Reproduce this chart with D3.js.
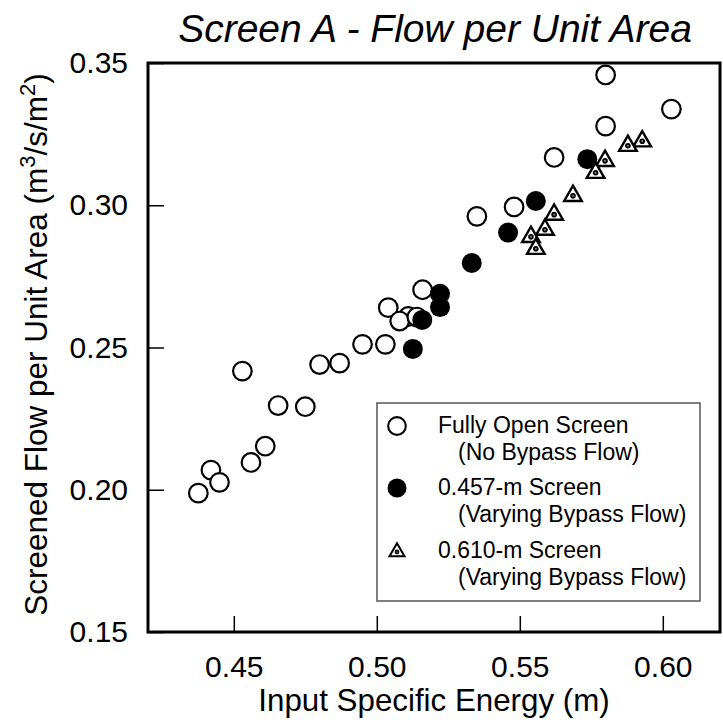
<!DOCTYPE html>
<html>
<head>
<meta charset="utf-8">
<script src="https://cdn.jsdelivr.net/npm/d3@7"></script>
<style>
  body { margin: 0; background: #fff; }
  text { font-family: "Liberation Sans", Arial, sans-serif; fill: #000; }
</style>
</head>
<body>
<div id="chart"></div>
<script>
// fully open screen (no bypass flow)
var openX = [0.580, 0.603, 0.580, 0.562, 0.548, 0.535, 0.516, 0.504, 0.511, 0.508, 0.514, 0.495,
             0.503, 0.480, 0.487, 0.453, 0.4655, 0.475, 0.461, 0.456, 0.442, 0.445, 0.4376];
var openY = [0.3458, 0.3338, 0.3278, 0.3168, 0.2994, 0.2961, 0.2703, 0.2640, 0.2609, 0.2593, 0.2607, 0.2511,
             0.2511, 0.2440, 0.2445, 0.2417, 0.2296, 0.2292, 0.2153, 0.2096, 0.2069, 0.2026, 0.1988];
// 0.457-m screen
var s457X = [0.5736, 0.5556, 0.5459, 0.5332, 0.5221, 0.5221, 0.5159, 0.5126];
var s457Y = [0.3162, 0.3015, 0.2904, 0.2797, 0.2689, 0.2642, 0.2597, 0.2495];
// 0.610-m screen
var s610X = [0.5928, 0.5878, 0.5798, 0.5765, 0.5686, 0.562, 0.5588, 0.5539, 0.5556];
var s610Y = [0.3225, 0.3209, 0.3156, 0.3114, 0.3033, 0.2967, 0.2914, 0.2889, 0.2847];

var xTicks = [0.45, 0.50, 0.55, 0.60];
var yTicks = [0.15, 0.20, 0.25, 0.30, 0.35];

var width = 723, height = 726;
var mLeft = 148, mRight = 720, mTop = 63, mBottom = 632;

var svg = d3.select("#chart").append("svg")
    .attr("width", width)
    .attr("height", height);

var x = d3.scaleLinear().domain([0.42, 0.62]).range([mLeft, mRight]);
var y = d3.scaleLinear().domain([0.15, 0.35]).range([mBottom, mTop]);

// title
svg.append("text")
    .attr("x", 435).attr("y", 42)
    .attr("text-anchor", "middle")
    .style("font-size", "39px")
    .style("font-style", "italic")
    .text("Screen A - Flow per Unit Area");

// axes
var xAxis = svg.append("g")
    .attr("transform", `translate(0,${mBottom})`)
    .call(d3.axisBottom(x).tickValues(xTicks).tickFormat(d3.format(".2f"))
      .tickSize(-16).tickSizeOuter(0).tickPadding(24));
var yAxis = svg.append("g")
    .attr("transform", `translate(${mLeft},0)`)
    .call(d3.axisLeft(y).tickValues(yTicks).tickFormat(d3.format(".2f"))
      .tickSize(-16).tickSizeOuter(0).tickPadding(20));

[xAxis, yAxis].forEach(function (g) {
  g.select(".domain").remove();
  g.selectAll("line").attr("stroke", "#000").attr("stroke-width", 1.5);
  g.selectAll("text").style("font-size", "30px").style("font-family", "Liberation Sans, Arial, sans-serif");
});

// frame
svg.append("rect")
    .attr("x", mLeft).attr("y", mTop)
    .attr("width", mRight - mLeft).attr("height", mBottom - mTop)
    .attr("fill", "none").attr("stroke", "#000").attr("stroke-width", 3);

// axis titles
svg.append("text")
    .attr("x", 434).attr("y", 711)
    .attr("text-anchor", "middle")
    .style("font-size", "31.3px")
    .text("Input Specific Energy (m)");

var yl = svg.append("text")
    .attr("transform", `translate(47,${(mTop + mBottom) / 2 - 3}) rotate(-90)`)
    .attr("text-anchor", "middle")
    .style("font-size", "31.5px");
yl.append("tspan").text("Screened Flow per Unit Area (m");
yl.append("tspan").attr("dy", -12).style("font-size", "22px").text("3");
yl.append("tspan").attr("dy", 12).text("/s/m");
yl.append("tspan").attr("dy", -12).style("font-size", "22px").text("2");
yl.append("tspan").attr("dy", 12).text(")");

// marker drawers
var tri = d3.symbol().type(d3.symbolTriangle).size(135);

function openCircle(g) {
  g.append("circle").attr("r", 9.3).attr("fill", "#fff").attr("stroke", "#000").attr("stroke-width", 2.2);
}
function fullCircle(g) {
  g.append("circle").attr("r", 10).attr("fill", "#000");
}
function dotTriangle(g) {
  g.append("path").attr("d", tri).attr("fill", "#fff").attr("stroke", "#000").attr("stroke-width", 2.4);
  g.append("circle").attr("r", 2.8).attr("fill", "#000");
  g.append("circle").attr("r", 1).attr("fill", "#888");
}

function plot(xs, ys, draw) {
  svg.append("g").selectAll("g")
    .data(d3.zip(xs, ys))
    .enter().append("g")
      .attr("transform", d => `translate(${x(d[0])},${y(d[1])})`)
      .each(function () { draw(d3.select(this)); });
}

plot(openX, openY, openCircle);
plot(s457X, s457Y, fullCircle);
plot(s610X, s610Y, dotTriangle);

// legend
var lg = svg.append("g");
lg.append("rect")
    .attr("x", 377).attr("y", 403).attr("width", 323).attr("height", 198)
    .attr("fill", "#fff").attr("stroke", "#555").attr("stroke-width", 1.5);

var legendRows = [
  {draw: openCircle, cy: 426, l1: "Fully Open Screen", l2: "(No Bypass Flow)", b: 433},
  {draw: fullCircle, cy: 488, l1: "0.457-m Screen", l2: "(Varying Bypass Flow)", b: 495},
  {draw: dotTriangle, cy: 552, l1: "0.610-m Screen", l2: "(Varying Bypass Flow)", b: 558}
];
legendRows.forEach(function (r, i) {
  var s = lg.append("g").attr("transform", `translate(397,${r.cy}) scale(${i == 2 ? 0.85 : 0.95})`);
  r.draw(s);
  lg.append("text").attr("x", 438).attr("y", r.b).style("font-size", "23px").text(r.l1);
  lg.append("text").attr("x", 458).attr("y", r.b + 27).style("font-size", "23px").text(r.l2);
});
</script>
</body>
</html>
